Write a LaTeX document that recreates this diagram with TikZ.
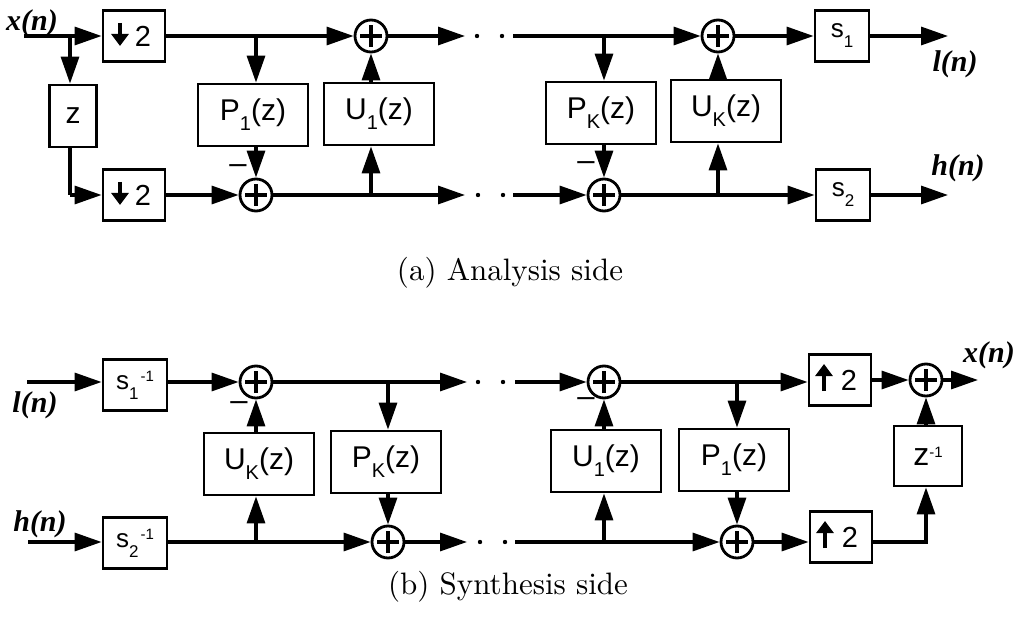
\documentclass[tikz,border=0pt]{standalone}
\usepackage{fontspec}
\usetikzlibrary{arrows.meta,calc}
\newfontfamily\blkfont{Liberation Sans}
\newfontfamily\labfont{Liberation Serif}
\newcommand\lsub[1]{\raisebox{-10pt}{\fontsize{20}{20}\selectfont #1}}
\newcommand\ssub[1]{\raisebox{-10pt}{\fontsize{17}{17}\selectfont #1}}
\newcommand\lsup[1]{\raisebox{8pt}{\fontsize{15}{15}\selectfont #1}}
\tikzset{
  lw/.style={line width=3.2pt},
  arr/.style={line width=3.2pt,-{Triangle[length=27pt,width=18pt]}},
  inarr/.style={line width=4pt,-{Triangle[length=12pt,width=17pt]}},
  blk/.style={draw,line width=2.8pt,minimum width=110pt,minimum height=62pt,inner sep=0pt,font=\blkfont\fontsize{30}{36}\selectfont},
  sbox/.style={draw,line width=2.8pt,minimum width=54pt,minimum height=51pt,inner sep=0pt,font=\blkfont\fontsize{26}{30}\selectfont},
  sinvbox/.style={draw,line width=2.8pt,minimum width=64pt,minimum height=51pt,inner sep=0pt,font=\blkfont\fontsize{26}{30}\selectfont},
  dbox/.style={draw,line width=2.8pt,minimum width=62pt,minimum height=51pt,inner sep=0pt},
  two/.style={inner sep=0pt,font=\blkfont\fontsize{29}{32}\selectfont},
  sum/.style={draw,circle,line width=2.8pt,minimum size=32pt,inner sep=0pt,
    path picture={
      \draw[line width=3.2pt] ([xshift=-11pt]path picture bounding box.center) -- ([xshift=11pt]path picture bounding box.center);
      \draw[line width=3.2pt] ([yshift=-11pt]path picture bounding box.center) -- ([yshift=11pt]path picture bounding box.center);}},
  sig/.style={inner sep=0pt,font=\labfont\bfseries\itshape\fontsize{30}{34}\selectfont},
  minus/.style={inner sep=0pt,font=\blkfont\fontsize{31}{34}\selectfont},
  dot/.style={fill=black},
  captext/.style={inner sep=0pt}
}
\begin{document}
\begin{tikzpicture}[x=1pt,y=-1pt]
\useasboundingbox (0,0) rectangle (1017,628);

% ================= Analysis side =================
\coordinate (xin) at (24,36);
\node[sig] (xlab) at (32,23) {x(n)};
\node[dbox] (d1) at (134,36) {};
\node[two] (d1t) at (143,36) {2};
\draw[inarr] (120,23) -- (120,46);
\node[dbox] (d2) at (134,195) {};
\node[two] (d2t) at (143,195) {2};
\draw[inarr] (120,182) -- (120,205);

\node[blk,minimum width=47pt] (zb) at (73,116) {z};
\node[blk] (P1) at (253,115) {P\lsub{1}(z)};
\node[blk] (U1) at (379,114) {U\lsub{1}(z)};
\node[blk] (PK) at (601,113) {P\lsub{K}(z)};
\node[blk] (UK) at (726,111) {U\lsub{K}(z)};

\node[sum] (aP1) at (256,195) {};
\node[sum] (aU1) at (371,36) {};
\node[sum] (aPK) at (604,195) {};
\node[sum] (aUK) at (718,36) {};

\node[sbox] (s1) at (842,36) {s\ssub{1}};
\node[sbox] (s2) at (843,195) {s\ssub{2}};

\node[minus] (m1) at (238,169) {–};
\node[minus] (m2) at (586,166) {–};

\coordinate (ab1) at (70,36);
\draw[arr] (xin) -- (d1.west);
\draw[arr] (ab1) -- (ab1 |- zb.north);
\draw[lw] (ab1 |- zb.south) -- (ab1 |- d2.west);
\draw[arr] (ab1 |- d2.west) -- (d2.west);

\draw[arr] (d1.east) -- (aU1.west);
\draw[arr] (aP1 |- d1.east) -- (aP1 |- P1.north);
\draw[arr] (aP1 |- P1.south) -- (aP1.north);
\draw[arr] (d2.east) -- (aP1.west);
\draw[arr] (aU1 |- aP1) -- (aU1 |- U1.south);
\draw[arr] (aU1 |- U1.north) -- (aU1.south);

\coordinate (ae1) at (465,36);
\coordinate (ae2) at (465,195);
\coordinate (ar1) at (513,36);
\coordinate (ar2) at (513,195);
\draw[arr] (aU1.east) -- (ae1);
\draw[arr] (aP1.east) -- (ae2);
\fill[dot] (477,36) circle (2.2pt) (502,36) circle (2.2pt);
\fill[dot] (478,195) circle (2.2pt) (503,195) circle (2.2pt);

\draw[arr] (ar1) -- (aUK.west);
\draw[arr] (aPK |- ar1) -- (aPK |- PK.north);
\draw[arr] (aPK |- PK.south) -- (aPK.north);
\draw[arr] (ar2) -- (aPK.west);
\draw[arr] (aPK.east) -- (s2.west);
\draw[arr] (aUK |- s2.west) -- (aUK |- UK.south);
\draw[arr] (aUK |- UK.north) -- (aUK.south);
\draw[arr] (aUK.east) -- (s1.west);

\coordinate (lout) at (948,36);
\coordinate (hout) at (948,195);
\draw[arr] (s1.east) -- (lout);
\draw[arr] (s2.east) -- (hout);
\node[sig] (llab) at (955,64) {l(n)};
\node[sig] (hlab) at (958,168) {h(n)};

\node[captext] (capa) at (510,273) {\scalebox{3.1}{\fontsize{10}{12}\selectfont (a) Analysis side}};

% ================= Synthesis side =================
\coordinate (lin) at (27,382);
\coordinate (hin) at (28,542);
\node[sig] (llab2) at (35,405) {l(n)};
\node[sig] (hlab2) at (40,524) {h(n)};
\node[sinvbox] (si1) at (135,385) {s\ssub{1}\hspace{2pt}\lsup{-1}};
\node[sinvbox] (si2) at (135,543) {s\ssub{2}\hspace{2pt}\lsup{-1}};

\node[sum] (tU) at (256,382) {};
\node[sum] (bP) at (388,542) {};
\node[sum] (tU1) at (604,382) {};
\node[sum] (bP1) at (737,542) {};
\node[sum] (fin) at (926,380) {};

\node[blk] (UKs) at (259,464) {U\lsub{K}(z)};
\node[blk] (PKs) at (386,462) {P\lsub{K}(z)};
\node[blk] (U1s) at (606,461) {U\lsub{1}(z)};
\node[blk] (P1s) at (734,460) {P\lsub{1}(z)};
\node[blk,minimum width=68pt,minimum height=60pt,font=\blkfont\fontsize{32}{36}\selectfont] (zinv) at (928,456) {z\lsup{-1}};

\node[dbox] (up1) at (840,380) {};
\node[two] (up1t) at (849,380) {2};
\draw[inarr] (824,391) -- (824,364);
\node[dbox] (up2) at (841,537) {};
\node[two] (up2t) at (850,537) {2};
\draw[inarr] (825,548) -- (825,521);

\node[minus] (m3) at (239,406) {–};
\node[minus] (m4) at (586,402) {–};

\draw[arr] (lin) -- (lin -| si1.west);
\draw[arr] (hin) -- (hin -| si2.west);
\draw[arr] (si1.east |- tU) -- (tU.west);
\draw[arr] (si2.east |- bP) -- (bP.west);
\draw[arr] (tU |- bP) -- (tU |- UKs.south);
\draw[arr] (tU |- UKs.north) -- (tU.south);
\draw[arr] (bP |- tU) -- (bP |- PKs.north);
\draw[arr] (bP |- PKs.south) -- (bP.north);

\coordinate (se1) at (467,382);
\coordinate (se2) at (467,542);
\coordinate (sr1) at (515,382);
\coordinate (sr2) at (515,542);
\draw[arr] (tU.east) -- (se1);
\draw[arr] (bP.east) -- (se2);
\fill[dot] (478,382) circle (2.2pt) (503,382) circle (2.2pt);
\fill[dot] (480,542) circle (2.2pt) (505,542) circle (2.2pt);

\draw[arr] (sr1) -- (tU1.west);
\draw[arr] (sr2) -- (bP1.west);
\draw[arr] (tU1 |- bP1) -- (tU1 |- U1s.south);
\draw[arr] (tU1 |- U1s.north) -- (tU1.south);
\draw[arr] (bP1 |- tU1) -- (bP1 |- P1s.north);
\draw[arr] (bP1 |- P1s.south) -- (bP1.north);

\draw[arr] (tU1.east) -- (tU1.east -| up1.west);
\draw[arr] (bP1.east) -- (bP1.east -| up2.west);
\draw[arr] (up1.east |- fin) -- (fin.west);
\draw[arr] (up2.east |- bP1) -| (zinv.south -| fin);
\draw[arr] (zinv.north -| fin) -- (fin.south);
\coordinate (xout) at (978,380);
\draw[arr] (fin.east) -- (xout);
\node[sig] (xlab2) at (989,355) {x(n)};

\node[captext] (capb) at (508,587) {\scalebox{3.1}{\fontsize{10}{12}\selectfont (b) Synthesis side}};
\end{tikzpicture}
\end{document}
